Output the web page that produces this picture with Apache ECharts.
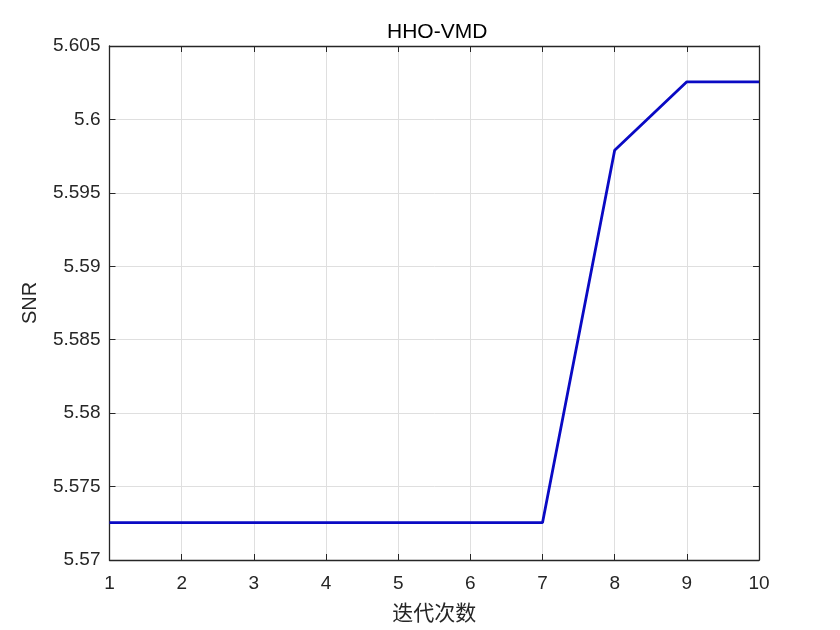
<!DOCTYPE html>
<html><head><meta charset="utf-8">
<script src="https://cdn.jsdelivr.net/npm/echarts@6/dist/echarts.min.js"></script>
<style>html,body{margin:0;padding:0;background:#fff}#c{width:840px;height:630px}</style>
</head><body><div id="c"></div>
<script>
const iterations = [1,2,3,4,5,6,7,8,9,10];
const snr = [5.57254,5.57254,5.57254,5.57254,5.57254,5.57254,5.57254,5.5979,5.60256,5.60256];
const titleText = 'HHO-VMD';
const xName = '迭代次数';
const yName = 'SNR';

const chart = echarts.init(document.getElementById('c'));
const fam = 'Liberation Sans, Arial, sans-serif';
const lab = {color:'#262626', fontSize:19, fontFamily:fam};
const tick = {show:true, inside:true, length:6, lineStyle:{color:'#262626', width:1}};
const axLine = {show:true, lineStyle:{color:'#262626', width:1.3}};
const split = {show:true, lineStyle:{color:'#dfdfdf', width:1}};
chart.setOption({
  animation:false,
  backgroundColor:'#fff',
  title:{text:titleText, left:382, top:17, textStyle:{fontFamily:fam, fontSize:21, fontWeight:'normal', color:'#000'}},
  grid:{left:109.5, right:81, top:46, bottom:70, containLabel:false},
  xAxis:[
    {type:'value', min:1, max:10, interval:1, position:'bottom', axisLine:axLine, axisTick:tick, splitLine:split,
     axisLabel:Object.assign({margin:14}, lab),
     name:xName, nameLocation:'middle', nameGap:42, nameTextStyle:{color:'#262626', fontSize:21, fontFamily:'Noto Sans CJK SC'}},
    {type:'value', min:1, max:10, interval:1, position:'top', axisLine:axLine, axisTick:tick, splitLine:{show:false}, axisLabel:{show:false}}
  ],
  yAxis:[
    {type:'value', min:5.57, max:5.605, interval:0.005, position:'left', axisLine:axLine, axisTick:tick, splitLine:split,
     axisLabel:Object.assign({margin:9, formatter:v=>String(parseFloat(v.toFixed(3)))}, lab),
     name:yName, nameLocation:'middle', nameGap:69, nameRotate:90, nameTextStyle:{color:'#262626', fontSize:20, fontFamily:fam}},
    {type:'value', min:5.57, max:5.605, interval:0.005, position:'right', axisLine:axLine, axisTick:tick, splitLine:{show:false}, axisLabel:{show:false}}
  ],
  series:[{type:'line', data:iterations.map((x,i)=>[x,snr[i]]), showSymbol:false, symbol:'none',
    lineStyle:{color:'#0a0ac4', width:2.8}}]
});
</script></body></html>
